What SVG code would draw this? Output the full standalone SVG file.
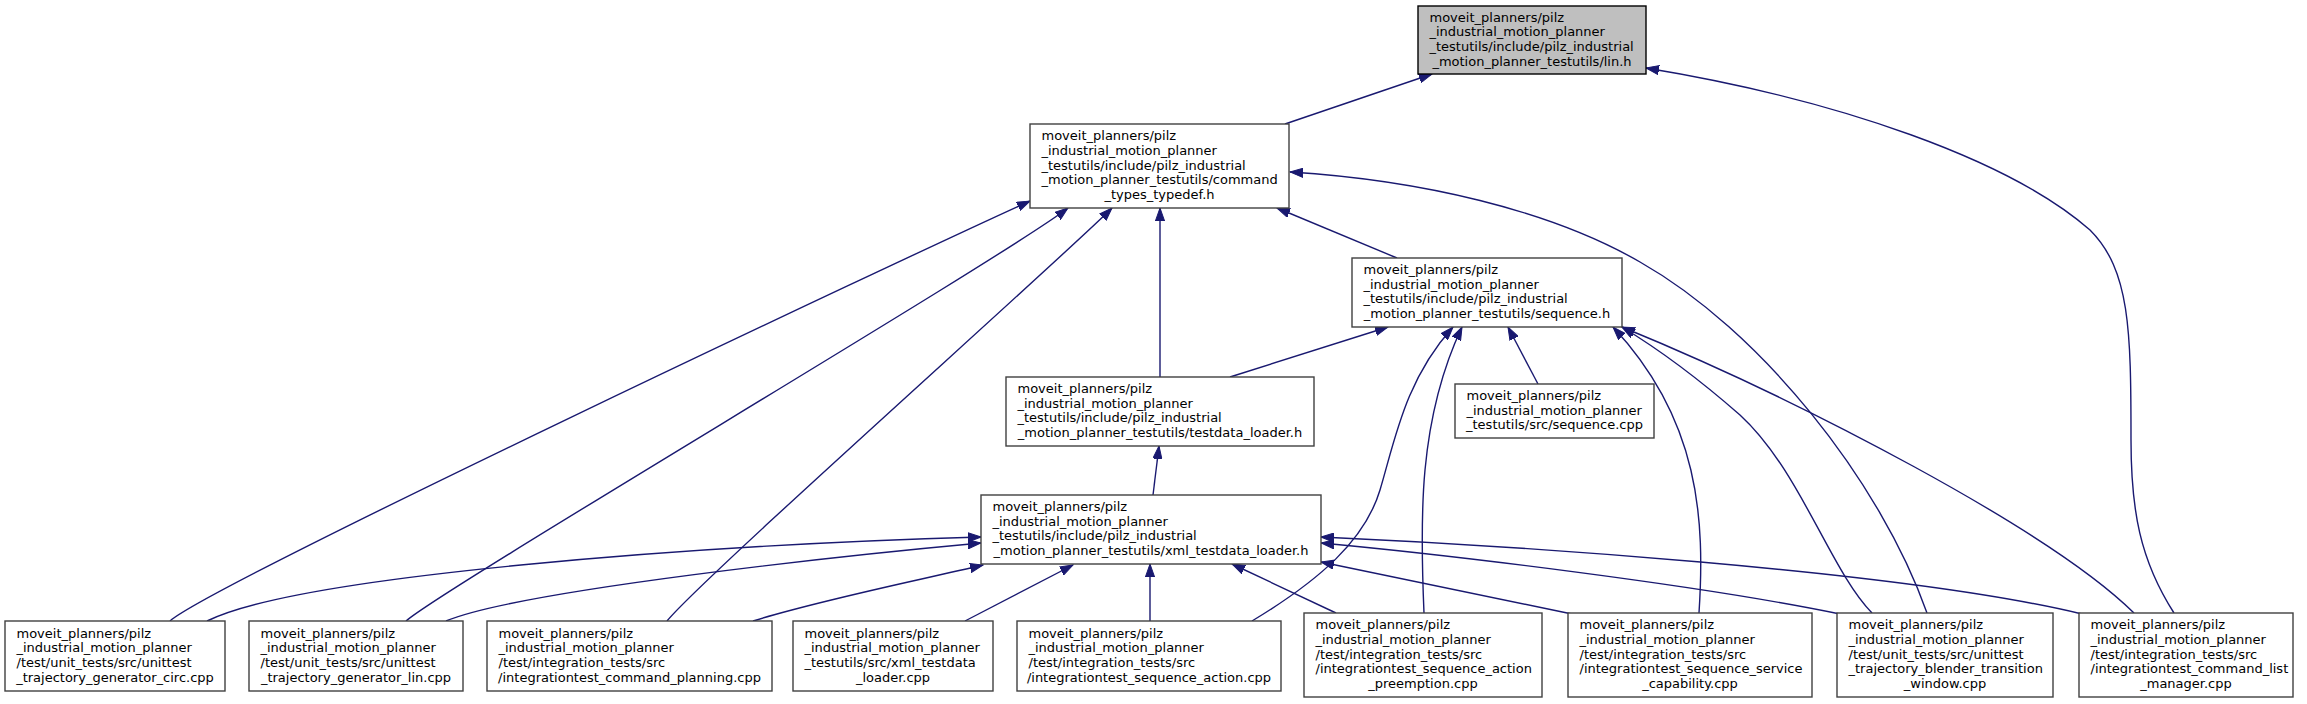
<svg xmlns="http://www.w3.org/2000/svg" width="2307" height="704" viewBox="0 0 2307 704">
<defs>
<style>
.n rect{fill:#ffffff;stroke:#404040;stroke-width:1.4}
.n.root rect{fill:#bfbfbf;stroke:#000000}
.n text{font-family:"DejaVu Sans","Liberation Sans",sans-serif;font-size:13px;fill:#000000}
.n text.c{text-anchor:middle}
#edges path{fill:none;stroke:#191970;stroke-width:1.4;marker-end:url(#ah)}
</style>
<marker id="ah" markerWidth="14" markerHeight="10" refX="13" refY="5" orient="auto" markerUnits="userSpaceOnUse">
<path d="M0,0.4 L13,5 L0,9.6 z" fill="#191970" stroke="#191970" stroke-width="1"/>
</marker>
</defs>
<rect x="0" y="0" width="2307" height="704" fill="#ffffff"/>
<g id="edges">
<path d="M1285,124 L1432,74"/>
<path d="M2174,613 C2140,560 2131,510 2131,440 C2131,330 2130,270 2090,230 C2010,160 1840,100 1646,68"/>
<path d="M170,621 C210,585 900,260 1030,201"/>
<path d="M406,621 C440,590 1000,260 1068,208"/>
<path d="M667,621 C700,580 1060,260 1112,208"/>
<path d="M1160,377 L1160,208"/>
<path d="M1397,258 L1277,208"/>
<path d="M1927,613 C1880,480 1760,330 1640,262 C1550,210 1420,180 1290,172"/>
<path d="M1230,377 L1388,327"/>
<path d="M1538,384 L1508,327"/>
<path d="M1252,621 C1320,580 1365,540 1380,490 C1395,440 1405,380 1453,327"/>
<path d="M1424,613 C1420,520 1418,420 1462,327"/>
<path d="M1699,613 C1705,520 1700,420 1613,327"/>
<path d="M1872,613 C1830,570 1800,470 1740,415 C1700,380 1660,350 1622,327"/>
<path d="M2134,613 C2050,530 1800,400 1622,327"/>
<path d="M1153,495 L1159,446"/>
<path d="M207,621 C300,575 700,545 981,537"/>
<path d="M446,621 C520,590 850,555 981,543"/>
<path d="M753,621 C820,600 920,580 983,565"/>
<path d="M965,621 L1073,565"/>
<path d="M1150,621 L1150,564"/>
<path d="M1336,613 L1232,564"/>
<path d="M1572,614 L1321,562"/>
<path d="M1840,614 C1700,585 1450,555 1321,543"/>
<path d="M2082,614 C1900,570 1500,545 1321,537"/>
</g>
<g id="node_lin_h" class="n root">
<rect x="1418" y="6" width="228" height="68"/>
<text x="1429.5" y="21.5">moveit_planners/pilz</text>
<text x="1429.5" y="36.2">_industrial_motion_planner</text>
<text x="1429.5" y="50.8">_testutils/include/pilz_industrial</text>
<text class="c" x="1532" y="65.5">_motion_planner_testutils/lin.h</text>
</g>
<g id="node_command_types_typedef_h" class="n">
<rect x="1030" y="124" width="259" height="84"/>
<text x="1041.5" y="140.2">moveit_planners/pilz</text>
<text x="1041.5" y="154.9">_industrial_motion_planner</text>
<text x="1041.5" y="169.5">_testutils/include/pilz_industrial</text>
<text x="1041.5" y="184.2">_motion_planner_testutils/command</text>
<text class="c" x="1159.5" y="198.9">_types_typedef.h</text>
</g>
<g id="node_sequence_h" class="n">
<rect x="1352" y="258" width="270" height="69"/>
<text x="1363.5" y="274">moveit_planners/pilz</text>
<text x="1363.5" y="288.7">_industrial_motion_planner</text>
<text x="1363.5" y="303.3">_testutils/include/pilz_industrial</text>
<text class="c" x="1487" y="318">_motion_planner_testutils/sequence.h</text>
</g>
<g id="node_testdata_loader_h" class="n">
<rect x="1006" y="377" width="308" height="69"/>
<text x="1017.5" y="393">moveit_planners/pilz</text>
<text x="1017.5" y="407.7">_industrial_motion_planner</text>
<text x="1017.5" y="422.3">_testutils/include/pilz_industrial</text>
<text class="c" x="1160" y="437">_motion_planner_testutils/testdata_loader.h</text>
</g>
<g id="node_xml_testdata_loader_h" class="n">
<rect x="981" y="495" width="340" height="69"/>
<text x="992.5" y="511">moveit_planners/pilz</text>
<text x="992.5" y="525.7">_industrial_motion_planner</text>
<text x="992.5" y="540.3">_testutils/include/pilz_industrial</text>
<text class="c" x="1151" y="555">_motion_planner_testutils/xml_testdata_loader.h</text>
</g>
<g id="node_sequence_cpp" class="n">
<rect x="1455" y="384" width="199" height="54"/>
<text x="1466.5" y="399.8">moveit_planners/pilz</text>
<text x="1466.5" y="414.5">_industrial_motion_planner</text>
<text class="c" x="1554.5" y="429.1">_testutils/src/sequence.cpp</text>
</g>
<g id="node_ut_circ" class="n">
<rect x="5" y="621" width="220" height="70"/>
<text x="16.5" y="637.5">moveit_planners/pilz</text>
<text x="16.5" y="652.2">_industrial_motion_planner</text>
<text x="16.5" y="666.8">/test/unit_tests/src/unittest</text>
<text class="c" x="115" y="681.5">_trajectory_generator_circ.cpp</text>
</g>
<g id="node_ut_lin" class="n">
<rect x="249" y="621" width="214" height="70"/>
<text x="260.5" y="637.5">moveit_planners/pilz</text>
<text x="260.5" y="652.2">_industrial_motion_planner</text>
<text x="260.5" y="666.8">/test/unit_tests/src/unittest</text>
<text class="c" x="356" y="681.5">_trajectory_generator_lin.cpp</text>
</g>
<g id="node_it_command_planning" class="n">
<rect x="487" y="621" width="285" height="70"/>
<text x="498.5" y="637.5">moveit_planners/pilz</text>
<text x="498.5" y="652.2">_industrial_motion_planner</text>
<text x="498.5" y="666.8">/test/integration_tests/src</text>
<text class="c" x="629.5" y="681.5">/integrationtest_command_planning.cpp</text>
</g>
<g id="node_xml_testdata_loader_cpp" class="n">
<rect x="793" y="621" width="200" height="70"/>
<text x="804.5" y="637.5">moveit_planners/pilz</text>
<text x="804.5" y="652.2">_industrial_motion_planner</text>
<text x="804.5" y="666.8">_testutils/src/xml_testdata</text>
<text class="c" x="893" y="681.5">_loader.cpp</text>
</g>
<g id="node_it_sequence_action" class="n">
<rect x="1017" y="621" width="264" height="70"/>
<text x="1028.5" y="637.5">moveit_planners/pilz</text>
<text x="1028.5" y="652.2">_industrial_motion_planner</text>
<text x="1028.5" y="666.8">/test/integration_tests/src</text>
<text class="c" x="1149" y="681.5">/integrationtest_sequence_action.cpp</text>
</g>
<g id="node_it_sequence_action_preemption" class="n">
<rect x="1304" y="613" width="238" height="84"/>
<text x="1315.5" y="629.2">moveit_planners/pilz</text>
<text x="1315.5" y="643.9">_industrial_motion_planner</text>
<text x="1315.5" y="658.5">/test/integration_tests/src</text>
<text x="1315.5" y="673.2">/integrationtest_sequence_action</text>
<text class="c" x="1423" y="687.9">_preemption.cpp</text>
</g>
<g id="node_it_sequence_service_capability" class="n">
<rect x="1568" y="613" width="244" height="84"/>
<text x="1579.5" y="629.2">moveit_planners/pilz</text>
<text x="1579.5" y="643.9">_industrial_motion_planner</text>
<text x="1579.5" y="658.5">/test/integration_tests/src</text>
<text x="1579.5" y="673.2">/integrationtest_sequence_service</text>
<text class="c" x="1690" y="687.9">_capability.cpp</text>
</g>
<g id="node_ut_blender_transition_window" class="n">
<rect x="1837" y="613" width="216" height="84"/>
<text x="1848.5" y="629.2">moveit_planners/pilz</text>
<text x="1848.5" y="643.9">_industrial_motion_planner</text>
<text x="1848.5" y="658.5">/test/unit_tests/src/unittest</text>
<text x="1848.5" y="673.2">_trajectory_blender_transition</text>
<text class="c" x="1945" y="687.9">_window.cpp</text>
</g>
<g id="node_it_command_list_manager" class="n">
<rect x="2079" y="613" width="214" height="84"/>
<text x="2090.5" y="629.2">moveit_planners/pilz</text>
<text x="2090.5" y="643.9">_industrial_motion_planner</text>
<text x="2090.5" y="658.5">/test/integration_tests/src</text>
<text x="2090.5" y="673.2">/integrationtest_command_list</text>
<text class="c" x="2186" y="687.9">_manager.cpp</text>
</g>
</svg>
